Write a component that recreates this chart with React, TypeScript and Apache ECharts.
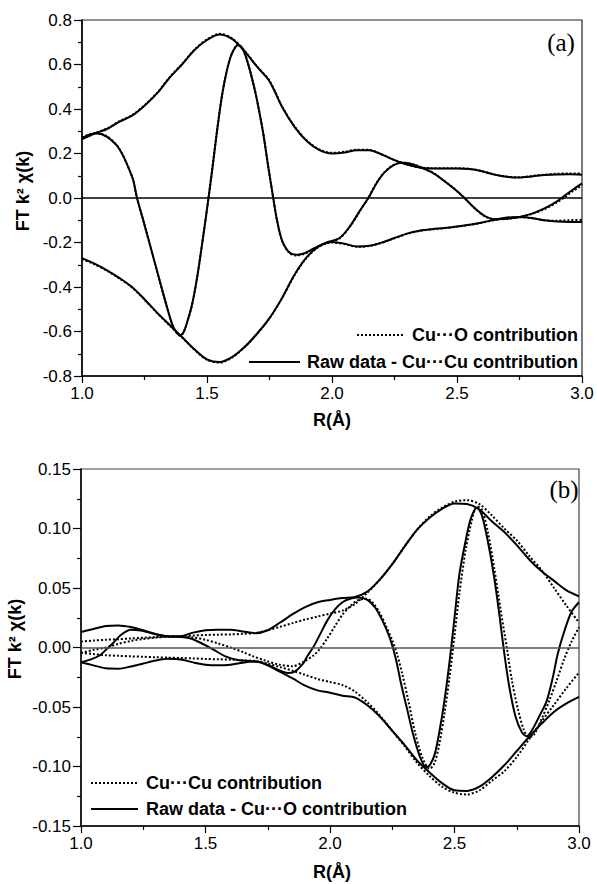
import React, { useEffect, useRef } from "react";
import * as echarts from "echarts";

// ---- shared R grid for the envelope curves (Å)
const ENV_R = [
  1.0, 1.05, 1.1, 1.15, 1.2, 1.25, 1.3, 1.35, 1.4, 1.45, 1.5, 1.55, 1.6, 1.65, 1.7, 1.75, 1.8, 1.85, 1.9, 1.95,
  2.0, 2.05, 2.1, 2.15, 2.2, 2.25, 2.3, 2.35, 2.4, 2.45, 2.5, 2.55, 2.6, 2.65, 2.7, 2.75, 2.8, 2.85, 2.9, 2.95, 3.0,
];

// ---- panel (a): Cu···O contribution (dotted) vs Raw data - Cu···Cu contribution (solid)
const A_UPPER_SOLID = [
  0.265, 0.29, 0.31, 0.343, 0.37, 0.415, 0.47, 0.54, 0.6, 0.665, 0.71, 0.735, 0.715, 0.66, 0.59, 0.525, 0.41, 0.32, 0.255, 0.215,
  0.2, 0.205, 0.215, 0.215, 0.195, 0.17, 0.15, 0.137, 0.133, 0.133, 0.133, 0.13, 0.12, 0.105, 0.095, 0.092, 0.097, 0.103, 0.106, 0.107, 0.105,
];
const A_LOWER_SOLID = [
  -0.27, -0.295, -0.325, -0.36, -0.4, -0.455, -0.515, -0.57, -0.625, -0.68, -0.725, -0.737, -0.715, -0.67, -0.61, -0.54, -0.45, -0.345, -0.265, -0.215,
  -0.198, -0.205, -0.218, -0.215, -0.2, -0.18, -0.16, -0.147, -0.14, -0.135, -0.128, -0.12, -0.11, -0.098, -0.088, -0.085, -0.09, -0.1, -0.106, -0.108, -0.108,
];
const A_UPPER_DOT = [
  0.265, 0.29, 0.312, 0.345, 0.372, 0.417, 0.472, 0.542, 0.602, 0.667, 0.713, 0.738, 0.718, 0.662, 0.592, 0.527, 0.412, 0.322, 0.257, 0.218,
  0.203, 0.208, 0.217, 0.216, 0.196, 0.171, 0.151, 0.138, 0.134, 0.134, 0.134, 0.131, 0.121, 0.106, 0.096, 0.093, 0.099, 0.105, 0.109, 0.11, 0.11,
];
const A_LOWER_DOT = [
  -0.275, -0.298, -0.327, -0.362, -0.402, -0.457, -0.517, -0.572, -0.627, -0.682, -0.728, -0.74, -0.717, -0.671, -0.611, -0.541, -0.451, -0.347, -0.267, -0.217,
  -0.2, -0.207, -0.219, -0.216, -0.201, -0.181, -0.161, -0.148, -0.141, -0.136, -0.129, -0.121, -0.111, -0.099, -0.089, -0.086, -0.091, -0.1, -0.102, -0.1, -0.098,
];
const A_IM_SOLID: [number, number][] = [
  [1.0, 0.27], [1.03, 0.285], [1.06, 0.29], [1.1, 0.275], [1.14, 0.235], [1.165, 0.188], [1.19, 0.125], [1.205, 0.08], [1.22, 0.0],
  [1.245, -0.1], [1.285, -0.265], [1.325, -0.43], [1.36, -0.565], [1.38, -0.608], [1.392, -0.617], [1.405, -0.606], [1.42, -0.56],
  [1.44, -0.48], [1.46, -0.36], [1.48, -0.21], [1.5, -0.05], [1.52, 0.12], [1.54, 0.3], [1.56, 0.46], [1.58, 0.575], [1.6, 0.65],
  [1.625, 0.688], [1.645, 0.665], [1.665, 0.6], [1.685, 0.515], [1.7, 0.44], [1.725, 0.29], [1.745, 0.14], [1.765, 0.0], [1.78, -0.1],
  [1.8, -0.19], [1.83, -0.245], [1.86, -0.255], [1.89, -0.248], [1.93, -0.225], [1.98, -0.2], [2.03, -0.18], [2.07, -0.13], [2.11, -0.06],
  [2.145, 0.0], [2.18, 0.07], [2.21, 0.115], [2.245, 0.147], [2.28, 0.158], [2.32, 0.152], [2.36, 0.135], [2.4, 0.115], [2.445, 0.08],
  [2.49, 0.04], [2.53, 0.0], [2.57, -0.045], [2.61, -0.08], [2.65, -0.095], [2.7, -0.093], [2.75, -0.085], [2.8, -0.07], [2.85, -0.047],
  [2.9, -0.015], [2.93, 0.01], [2.96, 0.035], [3.0, 0.066],
];
const A_IM_DOT: [number, number][] = [
  [1.0, 0.272], [1.03, 0.287], [1.06, 0.292], [1.1, 0.277], [1.14, 0.236], [1.165, 0.189], [1.19, 0.126], [1.205, 0.081], [1.22, 0.0],
  [1.245, -0.101], [1.285, -0.266], [1.325, -0.431], [1.36, -0.566], [1.38, -0.609], [1.392, -0.618], [1.405, -0.607], [1.42, -0.561],
  [1.44, -0.481], [1.46, -0.361], [1.48, -0.211], [1.5, -0.05], [1.52, 0.121], [1.54, 0.301], [1.56, 0.461], [1.58, 0.576], [1.6, 0.651],
  [1.625, 0.69], [1.645, 0.667], [1.665, 0.602], [1.685, 0.516], [1.7, 0.441], [1.725, 0.291], [1.745, 0.141], [1.765, 0.0], [1.78, -0.101],
  [1.8, -0.192], [1.83, -0.248], [1.86, -0.258], [1.89, -0.251], [1.93, -0.227], [1.98, -0.202], [2.03, -0.182], [2.07, -0.131], [2.11, -0.061],
  [2.145, 0.0], [2.18, 0.071], [2.21, 0.116], [2.245, 0.148], [2.28, 0.159], [2.32, 0.153], [2.36, 0.136], [2.4, 0.116], [2.445, 0.081],
  [2.49, 0.041], [2.53, 0.0], [2.57, -0.046], [2.61, -0.081], [2.65, -0.096], [2.7, -0.094], [2.75, -0.086], [2.8, -0.072], [2.85, -0.05],
  [2.9, -0.02], [2.93, 0.003], [2.96, 0.028], [3.0, 0.058],
];

// ---- panel (b): Cu···Cu contribution (dotted) vs Raw data - Cu···O contribution (solid)
const B_UPPER_SOLID = [
  0.013, 0.0155, 0.018, 0.0185, 0.0172, 0.0145, 0.0113, 0.0093, 0.0095, 0.0125, 0.0145, 0.015, 0.015, 0.0135, 0.012, 0.0145, 0.021, 0.028, 0.034, 0.038,
  0.04, 0.0415, 0.0425, 0.047, 0.057, 0.07, 0.085, 0.099, 0.109, 0.1165, 0.121, 0.1205, 0.116, 0.106, 0.097, 0.086, 0.074, 0.064, 0.056, 0.048, 0.043,
];
const B_LOWER_SOLID = [
  -0.0125, -0.015, -0.0175, -0.0178, -0.016, -0.0135, -0.011, -0.0095, -0.01, -0.0125, -0.0145, -0.015, -0.0145, -0.0128, -0.0115, -0.015, -0.0205, -0.026, -0.032, -0.036,
  -0.038, -0.0405, -0.042, -0.0485, -0.058, -0.07, -0.082, -0.095, -0.105, -0.114, -0.12, -0.1205, -0.117, -0.109, -0.099, -0.087, -0.075, -0.064, -0.054, -0.047, -0.0415,
];
const B_UPPER_DOT = [
  0.005, 0.0058, 0.0065, 0.007, 0.0076, 0.0082, 0.0087, 0.0092, 0.0096, 0.0101, 0.0105, 0.0108, 0.011, 0.0115, 0.0122, 0.0145, 0.0175, 0.0205, 0.0235, 0.026,
  0.0285, 0.031, 0.0365, 0.046, 0.057, 0.07, 0.085, 0.099, 0.11, 0.1175, 0.1225, 0.1238, 0.1205, 0.111, 0.1, 0.09, 0.077, 0.065, 0.05, 0.035, 0.021,
];
const B_LOWER_DOT = [
  -0.0045, -0.0055, -0.0065, -0.007, -0.0074, -0.0078, -0.0082, -0.0085, -0.0088, -0.0092, -0.0096, -0.0099, -0.0102, -0.0108, -0.0113, -0.0135, -0.0165, -0.0195, -0.023, -0.0265,
  -0.029, -0.0315, -0.037, -0.046, -0.057, -0.07, -0.083, -0.097, -0.108, -0.117, -0.122, -0.1235, -0.12, -0.112, -0.104, -0.092, -0.077, -0.062, -0.048, -0.034, -0.021,
];
const B_IM_SOLID: [number, number][] = [
  [1.0, -0.0125], [1.04, -0.01], [1.076, -0.0065], [1.1, -0.002], [1.13, 0.004], [1.16, 0.0105], [1.2, 0.015], [1.24, 0.0143],
  [1.28, 0.0122], [1.32, 0.0103], [1.36, 0.0092], [1.4, 0.0088], [1.44, 0.0075], [1.48, 0.004], [1.53, -0.0015], [1.58, -0.0075],
  [1.63, -0.0105], [1.68, -0.0115], [1.72, -0.0125], [1.76, -0.0155], [1.8, -0.0195], [1.83, -0.0215], [1.86, -0.02], [1.89, -0.014],
  [1.91, -0.007], [1.935, 0.001], [1.96, 0.011], [1.99, 0.023], [2.02, 0.032], [2.05, 0.038], [2.08, 0.041], [2.115, 0.042],
  [2.15, 0.04], [2.18, 0.034], [2.2, 0.027], [2.225, 0.016], [2.245, 0.005], [2.265, -0.01], [2.285, -0.03], [2.31, -0.052],
  [2.335, -0.074], [2.36, -0.091], [2.385, -0.1005], [2.4, -0.099], [2.42, -0.09], [2.44, -0.07], [2.46, -0.044], [2.48, -0.012],
  [2.5, 0.025], [2.52, 0.062], [2.545, 0.09], [2.565, 0.108], [2.59, 0.1175], [2.61, 0.111], [2.635, 0.088], [2.66, 0.058],
  [2.68, 0.028], [2.7, -0.005], [2.72, -0.033], [2.745, -0.058], [2.77, -0.071], [2.79, -0.0745], [2.81, -0.07], [2.84, -0.058],
  [2.87, -0.045], [2.895, -0.025], [2.915, -0.005], [2.94, 0.013], [2.97, 0.03], [3.0, 0.038],
];
const B_IM_DOT: [number, number][] = [
  [1.0, -0.0045], [1.05, -0.002], [1.1, 0.0], [1.15, 0.003], [1.2, 0.0055], [1.25, 0.0072], [1.3, 0.0083], [1.35, 0.009],
  [1.4, 0.0093], [1.45, 0.0085], [1.5, 0.0065], [1.55, 0.0035], [1.6, 0.0], [1.65, -0.0038], [1.69, -0.0073], [1.74, -0.011],
  [1.795, -0.0143], [1.85, -0.0157], [1.89, -0.0125], [1.935, -0.0065], [1.96, -0.001], [1.99, 0.008], [2.02, 0.018], [2.05, 0.0275],
  [2.08, 0.0345], [2.11, 0.0395], [2.145, 0.041], [2.17, 0.038], [2.2, 0.029], [2.225, 0.018], [2.25, 0.006], [2.27, -0.006],
  [2.29, -0.022], [2.315, -0.045], [2.34, -0.07], [2.37, -0.092], [2.4, -0.102], [2.42, -0.097], [2.44, -0.08], [2.46, -0.055],
  [2.48, -0.025], [2.5, 0.01], [2.52, 0.046], [2.545, 0.082], [2.57, 0.107], [2.59, 0.1185], [2.61, 0.116], [2.635, 0.096],
  [2.66, 0.066], [2.685, 0.032], [2.71, 0.0], [2.73, -0.027], [2.755, -0.052], [2.78, -0.07], [2.8, -0.0755], [2.82, -0.073],
  [2.85, -0.06], [2.88, -0.045], [2.91, -0.028], [2.94, -0.01], [2.97, 0.005], [3.0, 0.017],
];

// ---- texts
const Y_NAME = "FT k\u00B2 \u03C7(k)";
const X_NAME = "R(\u00C5)";
const A_LEGEND = ["Cu\u00B7\u00B7\u00B7O contribution", "Raw data - Cu\u00B7\u00B7\u00B7Cu contribution"];
const B_LEGEND = ["Cu\u00B7\u00B7\u00B7Cu contribution", "Raw data - Cu\u00B7\u00B7\u00B7O contribution"];
const X_TICKS = { min: 1.0, max: 3.0, interval: 0.5 };
const A_Y_TICKS = { min: -0.8, max: 0.8, interval: 0.2 };
const B_Y_TICKS = { min: -0.15, max: 0.15, interval: 0.05 };

const SANS = "'Liberation Sans', Arial, sans-serif";
const SERIF = "'Liberation Serif', 'Times New Roman', serif";
const DOT: number[] = [2, 2];

function pair(xs: number[], ys: number[]) {
  return xs.map((x, i) => [x, ys[i]]);
}

function line(name: string, data: any[], idx: number, dotted: boolean, zero?: string) {
  const s: any = {
    type: "line",
    name,
    data,
    xAxisIndex: idx,
    yAxisIndex: idx,
    symbol: "none",
    showSymbol: false,
    smooth: 0.3,
    silent: true,
    z: dotted ? 3 : 2,
    lineStyle: { color: "#000", width: 2, type: dotted ? DOT : "solid" },
  };
  if (zero) {
    s.markLine = {
      silent: true,
      symbol: ["none", "none"],
      label: { show: false },
      lineStyle: { color: zero, width: 1.5, type: "solid" },
      data: [{ yAxis: 0 }],
    };
  }
  return s;
}

function xAxis(idx: number) {
  return {
    type: "value",
    gridIndex: idx,
    ...X_TICKS,
    axisLine: { show: true, onZero: false, lineStyle: { color: "#000", width: 1.5 } },
    axisTick: { show: true, inside: false, length: 7, lineStyle: { color: "#000", width: 1.2 } },
    minorTick: { show: true, splitNumber: 2, length: 4, lineStyle: { color: "#000", width: 1.2 } },
    splitLine: { show: false },
    axisLabel: {
      margin: 9,
      color: "#000",
      fontFamily: SANS,
      fontSize: 17,
      formatter: (v: number) => v.toFixed(1),
    },
  };
}

function yAxis(idx: number, ticks: any, digits: number) {
  return {
    type: "value",
    gridIndex: idx,
    ...ticks,
    axisLine: { show: true, onZero: false, lineStyle: { color: "#000", width: 1.5 } },
    axisTick: { show: true, inside: false, length: 8, lineStyle: { color: "#000", width: 1.2 } },
    minorTick: { show: true, splitNumber: 2, length: 4, lineStyle: { color: "#000", width: 1.2 } },
    splitLine: { show: false },
    axisLabel: {
      margin: 10,
      color: "#000",
      fontFamily: SANS,
      fontSize: 17,
      formatter: (v: number) => v.toFixed(digits),
    },
  };
}

function txt(x: number, y: number, text: string, opts: any = {}) {
  const align = opts.align || "center";
  return {
    type: "text",
    x,
    y,
    rotation: opts.rotation || 0,
    silent: true,
    z: 10,
    style: {
      text,
      fill: "#000",
      font: opts.font || `bold 18px ${SANS}`,
      textAlign: align,
      align,
      textVerticalAlign: "middle",
      verticalAlign: "middle",
    },
  };
}

function seg(x1: number, x2: number, y: number, dotted: boolean) {
  return {
    type: "line",
    silent: true,
    z: 10,
    shape: { x1, y1: y, x2, y2: y },
    style: { stroke: "#000", lineWidth: 2, lineDash: dotted ? DOT : null },
  };
}

export default function App() {
  const ref = useRef<HTMLDivElement>(null);

  useEffect(() => {
    if (!ref.current) return;
    const chart = echarts.init(ref.current, undefined, { renderer: "svg" });
    const option: any = {
      animation: false,
      backgroundColor: "#fff",
      grid: [
        { left: 82, top: 20, width: 500, height: 356, show: true, borderColor: "#222", borderWidth: 1.2, backgroundColor: "transparent" },
        { left: 81, top: 469, width: 498, height: 357, show: true, borderColor: "#444", borderWidth: 1.2, backgroundColor: "transparent" },
      ],
      xAxis: [xAxis(0), xAxis(1)],
      yAxis: [yAxis(0, A_Y_TICKS, 1), yAxis(1, B_Y_TICKS, 2)],
      series: [
        line(A_LEGEND[1] + " |F|", pair(ENV_R, A_UPPER_SOLID), 0, false, "#000"),
        line(A_LEGEND[1] + " -|F|", pair(ENV_R, A_LOWER_SOLID), 0, false),
        line(A_LEGEND[1] + " Im", A_IM_SOLID, 0, false),
        line(A_LEGEND[0] + " |F|", pair(ENV_R, A_UPPER_DOT), 0, true),
        line(A_LEGEND[0] + " -|F|", pair(ENV_R, A_LOWER_DOT), 0, true),
        line(A_LEGEND[0] + " Im", A_IM_DOT, 0, true),
        line(B_LEGEND[1] + " |F|", pair(ENV_R, B_UPPER_SOLID), 1, false, "#555"),
        line(B_LEGEND[1] + " -|F|", pair(ENV_R, B_LOWER_SOLID), 1, false),
        line(B_LEGEND[1] + " Im", B_IM_SOLID, 1, false),
        line(B_LEGEND[0] + " |F|", pair(ENV_R, B_UPPER_DOT), 1, true),
        line(B_LEGEND[0] + " -|F|", pair(ENV_R, B_LOWER_DOT), 1, true),
        line(B_LEGEND[0] + " Im", B_IM_DOT, 1, true),
      ],
      graphic: [
        // axis names
        txt(23, 191, Y_NAME, { rotation: Math.PI / 2 }),
        txt(15, 639, Y_NAME, { rotation: Math.PI / 2 }),
        txt(332, 420, X_NAME),
        txt(332, 872, X_NAME),
        // panel tags
        txt(561, 42, "(a)", { font: `25px ${SERIF}` }),
        txt(564, 489, "(b)", { font: `25px ${SERIF}` }),
        // legend (a): right aligned
        seg(357, 405, 335, true),
        txt(578, 335, A_LEGEND[0], { align: "right" }),
        seg(249, 300, 362, false),
        txt(578, 362, A_LEGEND[1], { align: "right" }),
        // legend (b): left aligned
        seg(91, 138, 783, true),
        txt(146, 783, B_LEGEND[0], { align: "left" }),
        seg(91, 138, 809, false),
        txt(146, 809, B_LEGEND[1], { align: "left" }),
      ],
    };
    chart.setOption(option);
    return () => chart.dispose();
  }, []);

  return (
    <div
      ref={ref}
      style={{ position: "absolute", left: 0, top: 0, width: 597, height: 884, background: "#fff" }}
    />
  );
}
